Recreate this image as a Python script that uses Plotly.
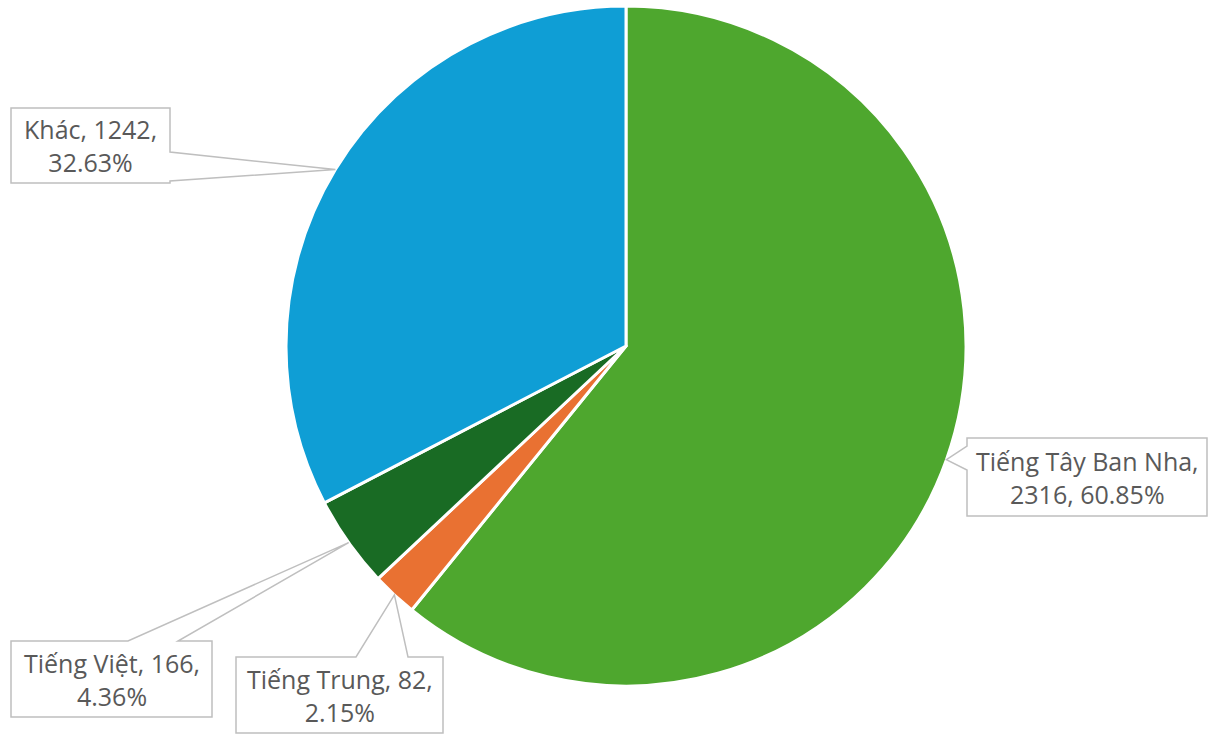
import math
import plotly.graph_objects as go

# Language breakdown
labels = ["Tiếng Tây Ban Nha", "Tiếng Trung", "Tiếng Việt", "Khác"]
values = [2316, 82, 166, 1242]
colors = ["#4EA72E", "#E97132", "#196B24", "#0F9ED5"]

W, H = 1208, 734
CX, CY, R = 626, 346, 340  # pie centre and radius in page pixels

total = sum(values)
pcts = [v / total * 100 for v in values]

# Callout boxes: (x0, y0, x1, y1), edge carrying the pointer, pointer base span
callouts = [
    dict(box=(967, 438, 1207, 516), edge="left", base=(446, 470)),
    dict(box=(236, 657, 443, 733), edge="top", base=(356, 408)),
    dict(box=(11, 641, 212, 717), edge="top", base=(128, 178)),
    dict(box=(11, 108, 170, 183), edge="right", base=(152, 181)),
]


def tip_point(i):
    start = sum(pcts[:i])
    mid = (start + pcts[i] / 2) / 100 * 2 * math.pi
    return CX + R * math.sin(mid), CY - R * math.cos(mid)


def callout_path(box, edge, base, tip):
    x0, y0, x1, y1 = box
    tx, ty = tip
    b0, b1 = base
    pts = [(x0, y0)]
    if edge == "top":
        pts += [(b0, y0), (tx, ty), (b1, y0)]
    pts.append((x1, y0))
    if edge == "right":
        pts += [(x1, b0), (tx, ty), (x1, b1)]
    pts.append((x1, y1))
    pts.append((x0, y1))
    if edge == "left":
        pts += [(x0, b1), (tx, ty), (x0, b0)]
    return "M " + " L ".join(f"{x:.1f},{y:.1f}" for x, y in pts) + " Z"


fig = go.Figure()
fig.add_trace(go.Pie(
    labels=labels,
    values=values,
    sort=False,
    direction="clockwise",
    rotation=0,
    marker=dict(colors=colors, line=dict(color="#FFFFFF", width=3)),
    textinfo="none",
    hoverinfo="label+value+percent",
    showlegend=False,
    domain=dict(x=[(CX - R) / W, (CX + R) / W], y=[(H - CY - R) / H, (H - CY + R) / H]),
))

shapes = []
annotations = []
for i, c in enumerate(callouts):
    tip = tip_point(i)
    shapes.append(dict(
        type="path", xref="x", yref="y",
        path=callout_path(c["box"], c["edge"], c["base"], tip),
        fillcolor="#FFFFFF", line=dict(color="#BFBFBF", width=1.5), layer="above",
    ))
    if i == 0:
        text = f"{labels[i]},<br>{values[i]}, {pcts[i]:.2f}%"
    else:
        text = f"{labels[i]}, {values[i]},<br>{pcts[i]:.2f}%"
    x0, y0, x1, y1 = c["box"]
    annotations.append(dict(
        x=(x0 + x1) / 2, y=(y0 + y1) / 2, xref="x", yref="y",
        text=text, showarrow=False, xanchor="center", yanchor="middle",
        align="center", font=dict(family="Open Sans", size=25, color="#595959"),
    ))

fig.update_layout(
    width=W, height=H,
    margin=dict(l=0, r=0, t=0, b=0),
    paper_bgcolor="#FFFFFF", plot_bgcolor="rgba(0,0,0,0)",
    xaxis=dict(range=[0, W], visible=False, fixedrange=True, domain=[0, 1]),
    yaxis=dict(range=[H, 0], visible=False, fixedrange=True, domain=[0, 1]),
    shapes=shapes, annotations=annotations,
)

fig.write_html("out.html")
